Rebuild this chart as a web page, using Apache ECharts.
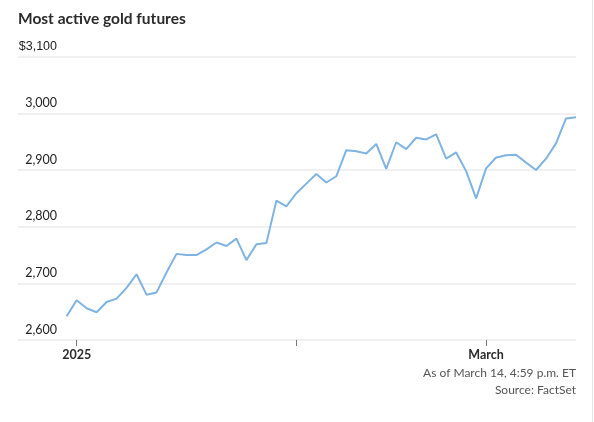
<!DOCTYPE html>
<html>
<head>
<meta charset="utf-8">
<script src="https://cdn.jsdelivr.net/npm/echarts@6/dist/echarts.min.js"></script>
<style>
html,body{margin:0;padding:0;background:#fff;}
#c{width:594px;height:422px;}
</style>
</head>
<body>
<div id="c"></div>
<script>
const dates = ['Dec 31',
 'Jan 2','Jan 3','Jan 6','Jan 7','Jan 8','Jan 9','Jan 10','Jan 13','Jan 14','Jan 15','Jan 16','Jan 17',
 'Jan 20','Jan 21','Jan 22','Jan 23','Jan 24','Jan 27','Jan 28','Jan 29','Jan 30','Jan 31',
 'Feb 3','Feb 4','Feb 5','Feb 6','Feb 7','Feb 10','Feb 11','Feb 12','Feb 13','Feb 14',
 'Feb 18','Feb 19','Feb 20','Feb 21','Feb 24','Feb 25','Feb 26','Feb 27','Feb 28',
 'Mar 3','Mar 4','Mar 5','Mar 6','Mar 7','Mar 10','Mar 11','Mar 12','Mar 13','Mar 14'];
const prices = [2642,
 2670,2656,2649,2667,2673,2692,2716,2680,2684,2719,2752,
 2750,2750,2760,2772,2766,2779,2741,2769,2771,2846,2836,
 2859,2876,2893,2878,2889,2935,2933,2929,2946,2902,
 2949,2937,2957,2954,2963,2920,2931,2898,2850,
 2903,2922,2926,2927,2913,2900,2920,2947,2991,2993];
const tickDates = ['Jan 2','Feb 3','Mar 3'];
const tickLabels = ['2025','','March'];
const yTicks = [2600,2700,2800,2900,3000,3100];

const tickIdx = tickDates.map(d => dates.indexOf(d));
const labelIdx = tickIdx.filter((v,i) => tickLabels[i] !== '');

const chart = echarts.init(document.getElementById('c'), null, {renderer:'canvas'});
chart.setOption({
  animation:false,
  backgroundColor:'#fff',
  title:{
    text:'Most active gold futures',
    left:18, top:11, padding:0,
    textStyle:{fontFamily:'Lato', fontWeight:'bold', fontSize:15.5, color:'#2b2b2b'}
  },
  grid:{left:18, right:18, top:56.7, bottom:82, containLabel:false},
  xAxis:{
    type:'value',
    min:-4.87, max:dates.length-1,
    axisLine:{show:false},
    splitLine:{show:false},
    axisTick:{show:true, customValues:tickIdx, length:6, lineStyle:{color:'#777', width:1}},
    axisLabel:{
      customValues:labelIdx,
      margin:8,
      fontFamily:'Lato', fontSize:12.5, fontWeight:'bold', color:'#2b2b2b',
      formatter:v => tickLabels[tickIdx.indexOf(Math.round(v))] || ''
    }
  },
  yAxis:{
    type:'value',
    min:yTicks[0], max:yTicks[yTicks.length-1], interval:100,
    axisLine:{show:false}, axisTick:{show:false},
    splitLine:{lineStyle:{color:'#ebebeb', width:1.5}},
    axisLabel:{
      inside:true, align:'right', verticalAlign:'bottom', margin:39,
      padding:[0,0,4,0],
      fontFamily:'Lato', fontSize:12.5, color:'#222',
      formatter:v => v === yTicks[yTicks.length-1] ? '{t|$' + v.toLocaleString('en-US') + '}' : v.toLocaleString('en-US'),
      rich:{t:{fontFamily:'Liberation Sans', fontSize:12.5, color:'#222'}}
    }
  },
  series:[{
    type:'line',
    data:prices.map((p,i) => [i,p]),
    showSymbol:false,
    lineStyle:{color:'#7fb3e2', width:2},
    itemStyle:{color:'#7fb3e2'}
  }],
  graphic:[
    {type:'text', right:18, top:367, style:{text:'As of March 14, 4:59 p.m. ET', fontFamily:'Lato', fontSize:12, fill:'#555', align:'right'}},
    {type:'text', right:18, top:384, style:{text:'Source: FactSet', fontFamily:'Lato', fontSize:12, fill:'#555', align:'right'}},
    {type:'rect', left:592, top:0, shape:{width:1, height:422}, style:{fill:'#e6e6e6'}}
  ]
});
</script>
</body>
</html>
